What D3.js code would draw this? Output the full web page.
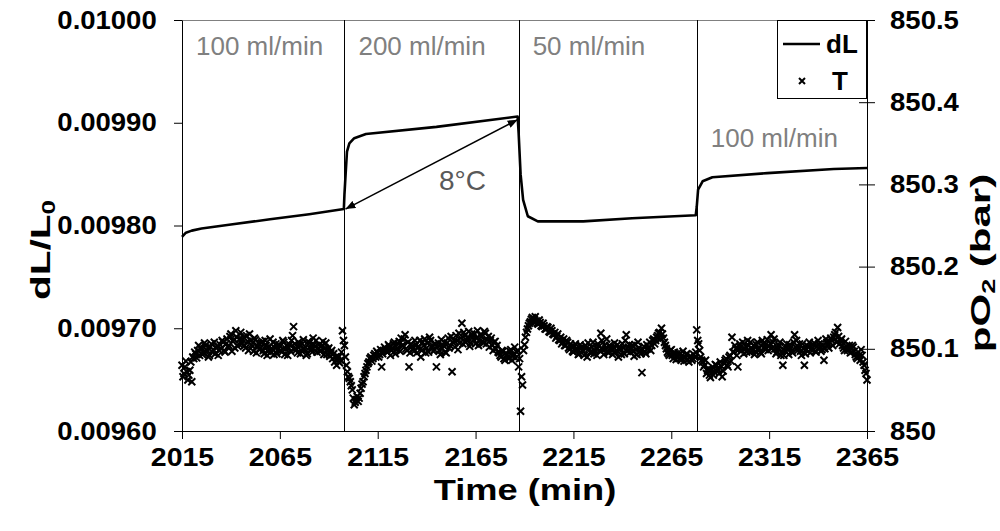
<!DOCTYPE html>
<html>
<head>
<meta charset="utf-8">
<script src="https://cdn.jsdelivr.net/npm/d3@7/dist/d3.min.js"></script>
<style>
  body { margin: 0; background: #fff; }
  svg { font-family: "Liberation Sans", Arial, sans-serif; }
</style>
</head>
<body>
<svg id="chart" width="1000" height="531"></svg>
<script>
// dL/L0 trace (time in min, value)
const dlTime = [2015, 2017, 2020, 2025, 2040, 2060, 2080, 2097.7,
  2098, 2098.6, 2099.3, 2100.5, 2103, 2109, 2145, 2186.5,
  2187, 2188, 2189.3, 2191.7, 2196.8, 2220, 2245, 2277.5,
  2278, 2278.7, 2281, 2286, 2314, 2348, 2365];
const dlValue = [0.009789, 0.009793, 0.009795, 0.009797, 0.009801, 0.009806, 0.009811, 0.009816,
  0.009830, 0.009850, 0.009872, 0.009880, 0.009885, 0.009889, 0.009896, 0.009906,
  0.009890, 0.009850, 0.009825, 0.009809, 0.009804, 0.009804, 0.009807, 0.009810,
  0.009818, 0.009835, 0.009843, 0.009847, 0.009851, 0.009855, 0.009856];

// T readings on the right axis: on each full minute from 2015 to 2365 ...
const tFirstMinute = 2015;
const tValue = [
  850.080, 850.070, 850.085, 850.062, 850.074, 850.060, 850.088, 850.094, 850.098, 850.092,
  850.101, 850.095, 850.104, 850.097, 850.092, 850.106, 850.099, 850.094, 850.103, 850.098,
  850.100, 850.108, 850.096, 850.112, 850.104, 850.118, 850.109, 850.101, 850.114, 850.106,
  850.120, 850.111, 850.104, 850.116, 850.098, 850.110, 850.103, 850.113, 850.095, 850.107,
  850.101, 850.109, 850.094, 850.104, 850.097, 850.112, 850.100, 850.093, 850.106, 850.099,
  850.103, 850.096, 850.108, 850.100, 850.092, 850.105, 850.110, 850.127, 850.101, 850.095,
  850.104, 850.098, 850.111, 850.102, 850.094, 850.107, 850.099, 850.113, 850.103, 850.096,
  850.105, 850.098, 850.109, 850.100, 850.093, 850.101, 850.095, 850.088, 850.084, 850.080,
  850.090, 850.086, 850.122, 850.104, 850.080, 850.066, 850.060, 850.050, 850.032, 850.038,
  850.036, 850.046, 850.057, 850.066, 850.074, 850.082, 850.088, 850.085, 850.092, 850.090,
  850.095, 850.093, 850.078, 850.098, 850.100, 850.096, 850.103, 850.098, 850.106, 850.094,
  850.101, 850.109, 850.113, 850.104, 850.117, 850.098, 850.078, 850.106, 850.100, 850.110,
  850.095, 850.103, 850.090, 850.108, 850.112, 850.101, 850.096, 850.110, 850.104, 850.099,
  850.078, 850.107, 850.093, 850.100, 850.108, 850.095, 850.113, 850.104, 850.072, 850.110,
  850.116, 850.099, 850.107, 850.131, 850.120, 850.108, 850.114, 850.103, 850.118, 850.111,
  850.106, 850.122, 850.109, 850.115, 850.107, 850.119, 850.111, 850.102, 850.113, 850.098,
  850.109, 850.104, 850.095, 850.090, 850.097, 850.086, 850.093, 850.088, 850.099, 850.091,
  850.102, 850.096, 850.078, 850.024, 850.056, 850.105, 850.120, 850.128, 850.133, 850.138,
  850.136, 850.134, 850.130, 850.132, 850.127, 850.128, 850.124, 850.126, 850.120, 850.122,
  850.117, 850.113, 850.118, 850.110, 850.106, 850.112, 850.104, 850.108, 850.099, 850.103,
  850.096, 850.106, 850.100, 850.094, 850.102, 850.097, 850.104, 850.090, 850.100, 850.095,
  850.108, 850.098, 850.092, 850.103, 850.119, 850.099, 850.104, 850.112, 850.095, 850.101,
  850.093, 850.107, 850.098, 850.090, 850.100, 850.106, 850.094, 850.117, 850.102, 850.096,
  850.104, 850.091, 850.099, 850.108, 850.097, 850.071, 850.103, 850.094, 850.100, 850.108,
  850.104, 850.112, 850.110, 850.116, 850.120, 850.125, 850.113, 850.104, 850.096, 850.092,
  850.099, 850.088, 850.094, 850.090, 850.093, 850.086, 850.097, 850.089, 850.094, 850.084,
  850.091, 850.088, 850.090, 850.123, 850.106, 850.090, 850.084, 850.080, 850.070, 850.076,
  850.065, 850.078, 850.072, 850.080, 850.074, 850.084, 850.066, 850.082, 850.088, 850.078,
  850.092, 850.114, 850.096, 850.100, 850.078, 850.106, 850.098, 850.094, 850.103, 850.110,
  850.096, 850.101, 850.104, 850.097, 850.108, 850.101, 850.094, 850.106, 850.099, 850.111,
  850.103, 850.117, 850.108, 850.100, 850.096, 850.104, 850.092, 850.080, 850.098, 850.106,
  850.093, 850.101, 850.095, 850.117, 850.110, 850.102, 850.097, 850.106, 850.080, 850.099,
  850.103, 850.095, 850.101, 850.107, 850.096, 850.110, 850.103, 850.099, 850.086, 850.112,
  850.105, 850.108, 850.110, 850.114, 850.120, 850.126, 850.106, 850.112, 850.101, 850.109,
  850.098, 850.104, 850.096, 850.102, 850.093, 850.088, 850.092, 850.099, 850.084, 850.074,
  850.062
];
// ... and on each half minute from 2015.5 to 2364.5
const tValueHalf = [
  850.066, 850.078, 850.072, 850.068, 850.084, 850.090, 850.096, 850.089, 850.104, 850.100,
  850.093, 850.107, 850.099, 850.090, 850.102, 850.096, 850.108, 850.101, 850.092, 850.105,
  850.110, 850.098, 850.106, 850.102, 850.115, 850.097, 850.111, 850.122, 850.103, 850.112,
  850.106, 850.114, 850.101, 850.109, 850.118, 850.105, 850.097, 850.111, 850.103, 850.099,
  850.107, 850.098, 850.110, 850.092, 850.103, 850.096, 850.108, 850.101, 850.094, 850.105,
  850.098, 850.110, 850.093, 850.104, 850.101, 850.097, 850.116, 850.106, 850.099, 850.108,
  850.094, 850.106, 850.100, 850.092, 850.109, 850.103, 850.096, 850.105, 850.110, 850.100,
  850.097, 850.104, 850.093, 850.107, 850.099, 850.091, 850.098, 850.094, 850.090, 850.086,
  850.083, 850.096, 850.110, 850.090, 850.072, 850.064, 850.055, 850.040, 850.035, 850.042,
  850.040, 850.052, 850.060, 850.070, 850.078, 850.084, 850.090, 850.088, 850.094, 850.097,
  850.090, 850.099, 850.094, 850.102, 850.097, 850.105, 850.092, 850.101, 850.108, 850.099,
  850.106, 850.097, 850.104, 850.112, 850.100, 850.108, 850.095, 850.103, 850.097, 850.105,
  850.101, 850.110, 850.098, 850.104, 850.095, 850.107, 850.114, 850.102, 850.097, 850.106,
  850.103, 850.098, 850.111, 850.104, 850.096, 850.107, 850.101, 850.115, 850.108, 850.102,
  850.110, 850.119, 850.113, 850.106, 850.116, 850.110, 850.121, 850.107, 850.114, 850.118,
  850.113, 850.104, 850.117, 850.109, 850.121, 850.106, 850.115, 850.110, 850.104, 850.108,
  850.100, 850.096, 850.092, 850.098, 850.088, 850.095, 850.090, 850.097, 850.086, 850.094,
  850.089, 850.098, 850.088, 850.066, 850.098, 850.114, 850.124, 850.131, 850.136, 850.133,
  850.139, 850.131, 850.135, 850.128, 850.131, 850.124, 850.127, 850.121, 850.125, 850.118,
  850.120, 850.115, 850.111, 850.114, 850.108, 850.104, 850.110, 850.101, 850.106, 850.097,
  850.103, 850.099, 850.093, 850.105, 850.098, 850.092, 850.101, 850.107, 850.096, 850.102,
  850.094, 850.101, 850.106, 850.098, 850.110, 850.093, 850.100, 850.096, 850.104, 850.098,
  850.102, 850.096, 850.105, 850.099, 850.093, 850.101, 850.110, 850.097, 850.105, 850.100,
  850.097, 850.105, 850.093, 850.101, 850.094, 850.099, 850.096, 850.105, 850.102, 850.098,
  850.110, 850.106, 850.114, 850.119, 850.112, 850.118, 850.108, 850.100, 850.094, 850.098,
  850.092, 850.096, 850.087, 850.095, 850.088, 850.092, 850.085, 850.093, 850.087, 850.090,
  850.086, 850.093, 850.096, 850.110, 850.098, 850.086, 850.078, 850.086, 850.074, 850.068,
  850.074, 850.068, 850.081, 850.076, 850.070, 850.079, 850.073, 850.086, 850.080, 850.090,
  850.085, 850.096, 850.104, 850.092, 850.099, 850.102, 850.108, 850.100, 850.096, 850.104,
  850.108, 850.098, 850.093, 850.105, 850.100, 850.096, 850.110, 850.102, 850.106, 850.098,
  850.106, 850.101, 850.112, 850.094, 850.100, 850.108, 850.097, 850.092, 850.103, 850.099,
  850.105, 850.097, 850.108, 850.102, 850.098, 850.106, 850.092, 850.100, 850.094, 850.103,
  850.108, 850.099, 850.105, 850.097, 850.103, 850.106, 850.097, 850.104, 850.100, 850.108,
  850.101, 850.113, 850.104, 850.117, 850.108, 850.115, 850.110, 850.104, 850.098, 850.103,
  850.100, 850.095, 850.104, 850.097, 850.090, 850.096, 850.086, 850.092, 850.080, 850.070
];

const flowSwitches = [2098, 2187, 2278];
const flowLabels = ["100 ml/min", "200 ml/min", "50 ml/min", "100 ml/min"];
const deltaLabel = "8°C";
const deltaFrom = [2098, 0.009816];
const deltaTo = [2186.5, 0.009903];

const xTicks = [2015, 2065, 2115, 2165, 2215, 2265, 2315, 2365];
const leftTicks = [0.0096, 0.0097, 0.0098, 0.0099, 0.0100];
const rightTicks = [850, 850.1, 850.2, 850.3, 850.4, 850.5];

const m = {left: 182, right: 867, top: 20, bottom: 431};

const svg = d3.select('#chart');
const x = d3.scaleLinear().domain([2015, 2365]).range([m.left, m.right]);
const yL = d3.scaleLinear().domain([0.0096, 0.0100]).range([m.bottom, m.top]);
const yR = d3.scaleLinear().domain([850, 850.5]).range([m.bottom, m.top]);
const px = v => Math.round(v) + 0.5;

// plot area border (top edge)
svg.append('line')
  .attr('x1', m.left).attr('x2', m.right).attr('y1', m.top + 0.5).attr('y2', m.top + 0.5)
  .attr('stroke', '#808080').attr('stroke-width', 1);

// flow switch lines
svg.append('g').selectAll('line').data(flowSwitches).enter().append('line')
  .attr('x1', d => px(x(d))).attr('x2', d => px(x(d)))
  .attr('y1', m.top).attr('y2', m.bottom)
  .attr('stroke', '#000').attr('stroke-width', 1);

const tickFont = g => g.selectAll('text')
  .attr('font-size', 25).attr('font-weight', 'bold').attr('fill', '#000')
  .attr('transform', 'scale(1.1,1)');

// axes
svg.append('g').attr('transform', `translate(${m.left},0)`)
  .call(d3.axisLeft(yL).tickValues(leftTicks).tickFormat(d3.format('.5f'))
    .tickSize(8).tickSizeOuter(0).tickPadding(15))
  .call(tickFont)
  .call(g => g.selectAll('path,line').attr('stroke', '#000'));

svg.append('g').attr('transform', `translate(${m.right},0)`)
  .call(d3.axisRight(yR).tickValues(rightTicks).tickFormat(d => String(+d.toFixed(1)))
    .tickSize(8).tickSizeOuter(0).tickPadding(13))
  .call(tickFont)
  .call(g => g.selectAll('.tick line').attr('x1', -8))
  .call(g => g.selectAll('path,line').attr('stroke', '#000'));

svg.append('g').attr('transform', `translate(0,${m.bottom})`)
  .call(d3.axisBottom(x).tickValues(xTicks).tickFormat(d3.format('d'))
    .tickSize(8).tickSizeOuter(0).tickPadding(9))
  .call(tickFont)
  .call(g => g.selectAll('text').attr('transform', 'scale(1.14,1)'))
  .call(g => g.selectAll('path,line').attr('stroke', '#000'));

// axis titles
svg.append('text')
  .attr('transform', `translate(525,500) scale(1.25,1)`)
  .attr('text-anchor', 'middle').attr('font-size', 29).attr('font-weight', 'bold')
  .text('Time (min)');

const yTitle = svg.append('text')
  .attr('transform', `translate(50,250) rotate(-90) scale(1.45,1)`)
  .attr('text-anchor', 'middle').attr('font-size', 28).attr('font-weight', 'bold');
yTitle.append('tspan').text('dL/L');
yTitle.append('tspan').attr('font-size', 18).attr('dy', 5).text('0');

const rTitle = svg.append('text')
  .attr('transform', `translate(990,263) rotate(-90) scale(1.5,1)`)
  .attr('text-anchor', 'middle').attr('font-size', 28).attr('font-weight', 'bold');
rTitle.append('tspan').text('pO');
rTitle.append('tspan').attr('font-size', 18).attr('dy', 5).text('2');
rTitle.append('tspan').attr('dy', -5).text(' (bar)');

// T scatter
const cross = 'M-3.5,-3.5L3.5,3.5M-3.5,3.5L3.5,-3.5';
const tPoints = tValue.map((v, i) => [tFirstMinute + i, v])
  .concat(tValueHalf.map((v, i) => [tFirstMinute + 0.5 + i, v]));
svg.append('g').selectAll('path').data(tPoints).enter().append('path')
  .attr('d', cross)
  .attr('transform', d => `translate(${x(d[0])},${yR(d[1])})`)
  .attr('stroke', '#000').attr('stroke-width', 2).attr('fill', 'none');

// dL line
const dlPoints = dlTime.map((t, i) => [t, dlValue[i]]);
svg.append('path').datum(dlPoints)
  .attr('d', d3.line().x(d => x(d[0])).y(d => yL(d[1])))
  .attr('fill', 'none').attr('stroke', '#000').attr('stroke-width', 2.6)
  .attr('stroke-linejoin', 'round');

// flow labels
const labelX = [2015, ...flowSwitches];
svg.append('g').selectAll('text').data(flowLabels).enter().append('text')
  .attr('x', (d, i) => x(labelX[i]) + 14)
  .attr('y', (d, i) => i < 3 ? 55 : 147)
  .attr('font-size', 26).attr('fill', '#808080')
  .text(d => d);

// 8°C double arrow
const defs = svg.append('defs');
['start', 'end'].forEach(k => {
  defs.append('marker').attr('id', 'arr-' + k)
    .attr('viewBox', '0 0 10 8').attr('refX', k === 'end' ? 10 : 0).attr('refY', 4)
    .attr('markerWidth', 10).attr('markerHeight', 8).attr('markerUnits', 'userSpaceOnUse')
    .attr('orient', 'auto')
    .append('path')
    .attr('d', k === 'end' ? 'M0,0L10,4L0,8Z' : 'M10,0L0,4L10,8Z')
    .attr('fill', '#000');
});
svg.append('line')
  .attr('x1', x(deltaFrom[0]) + 1).attr('y1', yL(deltaFrom[1]))
  .attr('x2', x(deltaTo[0])).attr('y2', yL(deltaTo[1]))
  .attr('stroke', '#000').attr('stroke-width', 1.5)
  .attr('marker-start', 'url(#arr-start)').attr('marker-end', 'url(#arr-end)');
svg.append('text')
  .attr('x', 439).attr('y', 190)
  .attr('font-size', 28).attr('fill', '#595959')
  .text(deltaLabel);

// legend
const lg = svg.append('g');
lg.append('rect').attr('x', 777.5).attr('y', 20.5).attr('width', 89).attr('height', 78)
  .attr('fill', '#fff').attr('stroke', '#000').attr('stroke-width', 1);
lg.append('line').attr('x1', 783).attr('x2', 820).attr('y1', 44).attr('y2', 44)
  .attr('stroke', '#000').attr('stroke-width', 2.6);
lg.append('text').attr('x', 826).attr('y', 53)
  .attr('font-size', 26).attr('font-weight', 'bold').text('dL');
lg.append('path').attr('d', 'M-3,-3L3,3M-3,3L3,-3').attr('transform', 'translate(802,81)')
  .attr('stroke', '#000').attr('stroke-width', 2);
lg.append('text').attr('x', 832).attr('y', 90)
  .attr('font-size', 26).attr('font-weight', 'bold').text('T');
</script>
</body>
</html>
